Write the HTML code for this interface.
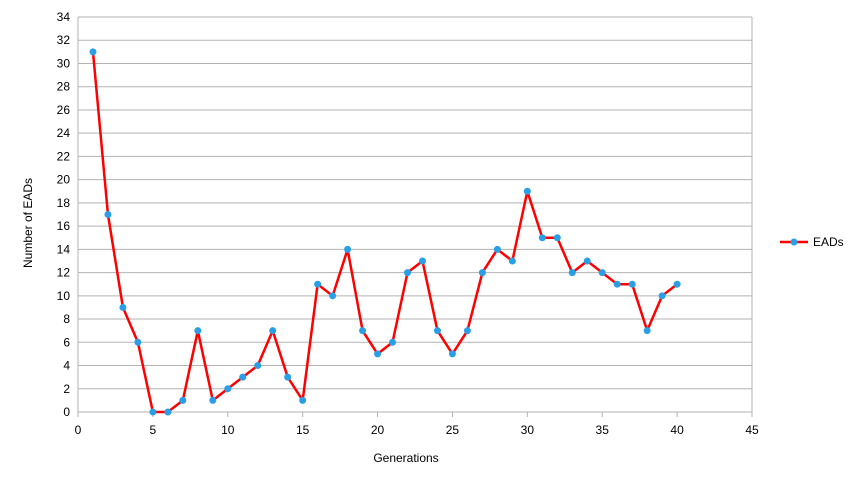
<!DOCTYPE html>
<html><head><meta charset="utf-8"><style>
body{margin:0;background:#fff;font-family:"Liberation Sans",sans-serif}
</style></head><body>
<svg id="chart" width="861" height="485" xmlns="http://www.w3.org/2000/svg" font-family="Liberation Sans, sans-serif" font-size="12" fill="#000">
<g id="grid"></g>
<g id="xt"></g>
<g id="yt"></g>
<g id="series"></g>
<text x="406" y="462" text-anchor="middle">Generations</text>
<text transform="translate(32,223) rotate(-90)" text-anchor="middle">Number of EADs</text>
<g>
<line x1="780" y1="242" x2="808" y2="242" stroke="#ff0000" stroke-width="2.5"/>
<circle cx="794" cy="242" r="3.5" fill="#2a9fe6"/>
<text x="813" y="246">EADs</text>
</g>
</svg>
<script>
const generations=[1,2,3,4,5,6,7,8,9,10,11,12,13,14,15,16,17,18,19,20,21,22,23,24,25,26,27,28,29,30,31,32,33,34,35,36,37,38,39,40];
const eads=[31,17,9,6,0,0,1,7,1,2,3,4,7,3,1,11,10,14,7,5,6,12,13,7,5,7,12,14,13,19,15,15,12,13,12,11,11,7,10,11];
const xTicks=[0,5,10,15,20,25,30,35,40,45];
const yTicks=[0,2,4,6,8,10,12,14,16,18,20,22,24,26,28,30,32,34];
const NS="http://www.w3.org/2000/svg";
const x0=78,x1=752,y0=412,y1=17;
const sx=v=>x0+(v-0)/45*(x1-x0);
const sy=v=>y0-(v-0)/34*(y0-y1);
function mk(t,a,p){const e=document.createElementNS(NS,t);for(const k in a)e.setAttribute(k,a[k]);p.appendChild(e);return e;}
const grid=document.getElementById('grid'),xt=document.getElementById('xt'),yt=document.getElementById('yt'),ser=document.getElementById('series');
yTicks.forEach(v=>{
 const l=mk('line',{x1:x0,x2:x1,y1:sy(v),y2:sy(v),stroke:'#b3b3b3','stroke-width':1},grid);
 
 
 const t=mk('text',{x:x0-8,y:sy(v)+4,'text-anchor':'end'},yt);t.textContent=v;
 
 
});
xTicks.forEach(v=>{
 mk('line',{x1:sx(v),x2:sx(v),y1:y0,y2:y0+5,stroke:'#b3b3b3'},grid);
 const t=mk('text',{x:sx(v),y:y0+22,'text-anchor':'middle'},xt);t.textContent=v;
 
 
});
mk('line',{x1:x0,x2:x0,y1:y1,y2:y0,stroke:'#b3b3b3'},grid);
mk('line',{x1:x1,x2:x1,y1:y1,y2:y0,stroke:'#b3b3b3'},grid);
const pts=generations.map((g,i)=>sx(g)+','+sy(eads[i])).join(' ');
const pl=mk('polyline',{points:pts,fill:'none',stroke:'#ff0000','stroke-width':2.5,'stroke-linejoin':'round'},ser);


generations.forEach((g,i)=>{
 const c=mk('circle',{cx:sx(g),cy:sy(eads[i]),r:3.5,fill:'#2a9fe6'},ser);
 
 
});
</script>
</body></html>
